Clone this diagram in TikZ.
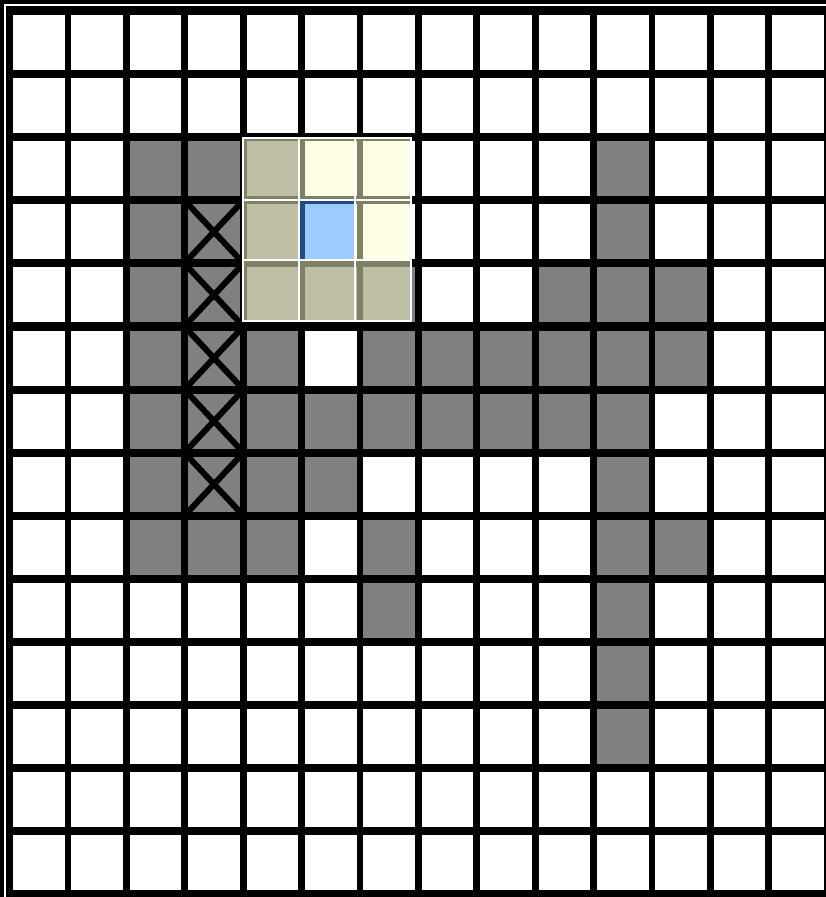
\documentclass[tikz,border=0pt]{standalone}
\usepackage{tikz}
\usetikzlibrary{positioning}
\definecolor{wallgray}{RGB}{128,128,128}
\definecolor{hiyellow}{RGB}{255,255,204}
\definecolor{hiblue}{RGB}{60,153,255}

\begin{document}
\begin{tikzpicture}[x=1pt, y=-1pt,
  cell/.style={fill=white, minimum width=51.5pt, minimum height=55pt, inner sep=0pt, outer sep=0pt, anchor=north west},
  wall/.style={cell, fill=wallgray},
  cross/.style={line width=6pt},
  tile/.style={fill opacity=0.5},
  seam/.style={draw=white, line width=2pt}
]
\useasboundingbox (0,0) rectangle (826,897);
\fill[black] (0,0) rectangle (826,897);
\draw[white, line width=2pt] (5,897) -- (5,5) -- (826,5);

% empty grid
\foreach \i in {0,...,13}
  \foreach \j in {0,...,13}
    \node[cell] (c-\i-\j) at ({13+58.4*\i},{15+63.1*\j}) {};

% walls, row by row
\foreach \j/\cols in {2/{2,3,4,10}, 3/{2,3,4,10}, 4/{2,3,4,5,6,9,10,11},
    5/{2,3,4,6,7,8,9,10,11}, 6/{2,3,4,5,6,7,8,9,10}, 7/{2,3,4,5,10},
    8/{2,3,4,6,10,11}, 9/{6,10}, 10/{10}, 11/{10}}
  \foreach \i in \cols
    \node[wall] (w-\i-\j) at ({13+58.4*\i},{15+63.1*\j}) {};

% crossed cells
\foreach \j in {3,...,7}
  \draw[cross] (w-3-\j.north west) -- (w-3-\j.south east)
               (w-3-\j.north east) -- (w-3-\j.south west);

% highlighted neighbourhood
\fill[hiyellow, tile, even odd rule] (243,138) rectangle (411,321)
  (299,199.5) rectangle (355,260);
\fill[hiblue, tile] (299,199.5) rectangle (355,260);
\draw[seam] (243,138) rectangle (411,321);
\foreach \x in {299,355}
  \draw[seam] (\x,138) -- (\x,321);
\foreach \y in {199.5,260}
  \draw[seam] (243,\y) -- (411,\y);
\end{tikzpicture}
\end{document}
